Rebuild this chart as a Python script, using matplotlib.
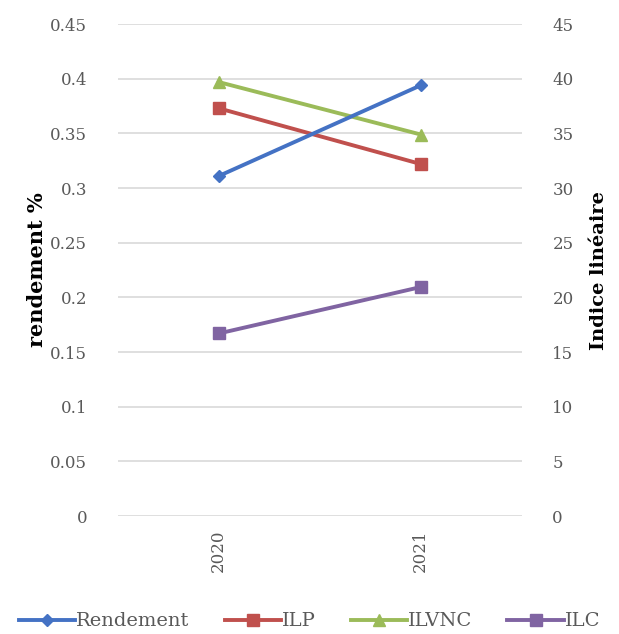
import matplotlib
matplotlib.use("Agg")
import matplotlib.pyplot as plt
from matplotlib.lines import Line2D

years = ["2020", "2021"]
rendement = [0.311, 0.394]
ilp = [37.3, 32.2]
ilvnc = [39.7, 34.9]
ilc = [16.7, 20.95]

left_ticks = [0, 0.05, 0.1, 0.15, 0.2, 0.25, 0.3, 0.35, 0.4, 0.45]
left_labels = ["0", "0.05", "0.1", "0.15", "0.2", "0.25", "0.3", "0.35", "0.4", "0.45"]
right_ticks = [0, 5, 10, 15, 20, 25, 30, 35, 40, 45]

plt.rcParams['font.family'] = ['DejaVu Serif']
fig = plt.figure(figsize=(6.19, 6.34), dpi=100)
ax = fig.add_axes([0.19, 0.186, 0.653, 0.776])
ax2 = ax.twinx()

x = list(range(len(years)))
c_blue, c_red, c_green, c_purple = "#4472C4", "#C0504D", "#9BBB59", "#8064A2"
lw = 2.8

ax.plot(x, rendement, color=c_blue, lw=lw, marker="D", ms=6, zorder=3)
ax2.plot(x, ilp, color=c_red, lw=lw, marker="s", ms=8)
ax2.plot(x, ilvnc, color=c_green, lw=lw, marker="^", ms=9)
ax2.plot(x, ilc, color=c_purple, lw=lw, marker="s", ms=8)

ax.set_zorder(ax2.get_zorder() + 1)
ax.patch.set_visible(False)

ax.set_xlim(-0.5, 1.5)
ax.set_ylim(0, 0.45)
ax2.set_ylim(0, 45)
ax.set_xticks(x)
ax.set_xticklabels(years, rotation=90, fontsize=12, color="#595959")
ax.set_yticks(left_ticks)
ax.set_yticklabels(left_labels, fontsize=12, color="#595959")
ax2.set_yticks(right_ticks)
ax2.set_yticklabels([str(t) for t in right_ticks], fontsize=12, color="#595959")

for a in (ax, ax2):
    for s in a.spines.values():
        s.set_visible(False)
    a.tick_params(length=0)
ax.tick_params(axis="y", pad=22)
ax2.tick_params(axis="y", pad=22)
ax.tick_params(axis="x", pad=10)

for t in left_ticks:
    ax2.axhline(t * 100, color="#D9D9D9", lw=1.2, zorder=0)

ax.set_ylabel("rendement %", fontsize=15, fontweight="bold", color="black", labelpad=2)
ax2.set_ylabel("Indice linéaire", fontsize=14, fontweight="bold", color="black", rotation=90, labelpad=12)

handles = [
    Line2D([], [], color=c_blue, lw=lw, marker="D", ms=6),
    Line2D([], [], color=c_red, lw=lw, marker="s", ms=8),
    Line2D([], [], color=c_green, lw=lw, marker="^", ms=9),
    Line2D([], [], color=c_purple, lw=lw, marker="s", ms=8),
]
fig.legend(handles, ["Rendement", "ILP", "ILVNC", "ILC"], loc="center",
           bbox_to_anchor=(0.5, 0.02), ncol=4, frameon=False, fontsize=14,
           handlelength=2.9, handletextpad=0.05, columnspacing=1.8,
           labelcolor="#595959")

fig.savefig("out.png", dpi=100)
